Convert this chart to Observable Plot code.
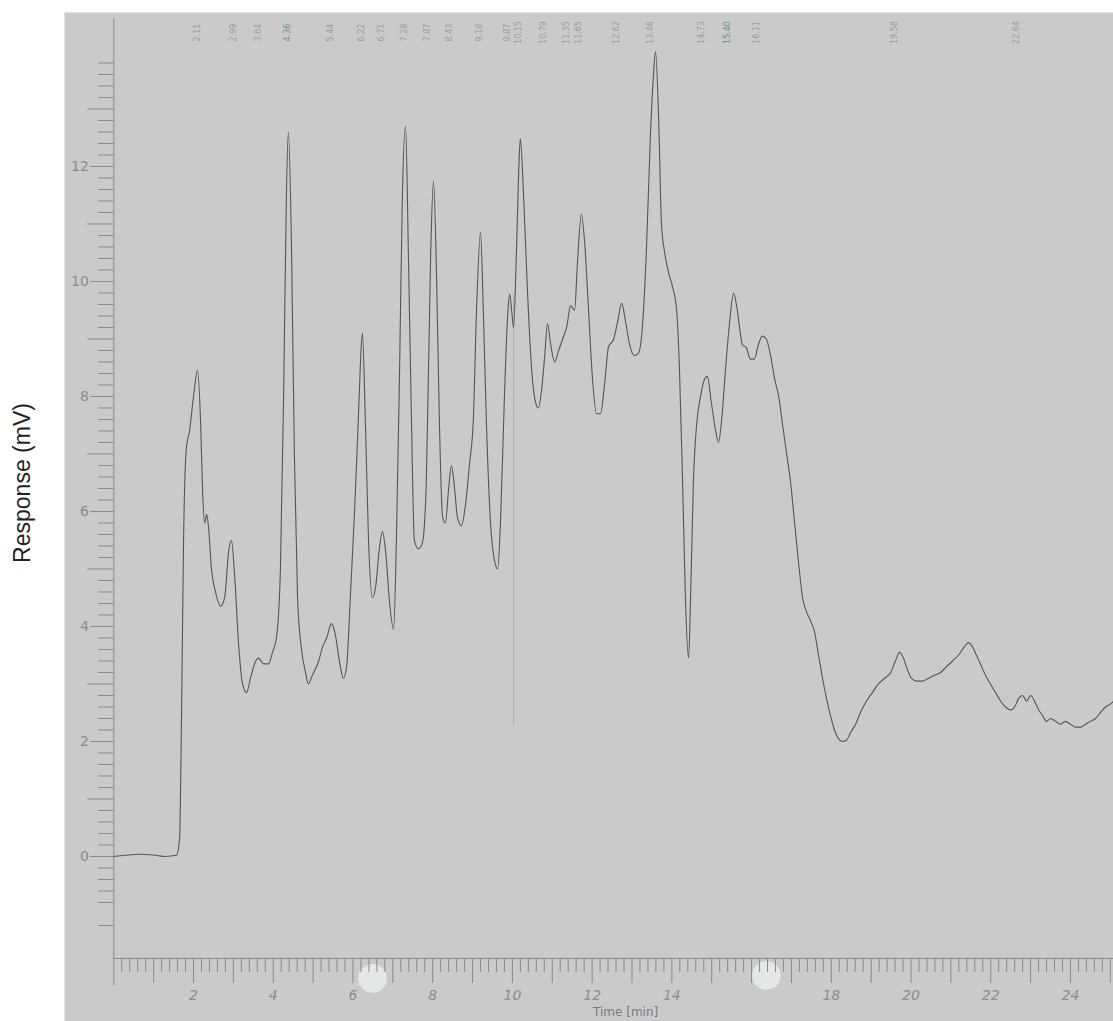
<!DOCTYPE html>
<html><head><meta charset="utf-8">
<script src="https://cdn.jsdelivr.net/npm/d3@7"></script>
<script src="https://cdn.jsdelivr.net/npm/@observablehq/plot@0.6"></script>
<style>body{margin:0;background:#fff;}</style>
</head><body><div id="chart"></div>
<script>
// Retention time (min)
const time = [0.00,0.29,0.67,1.05,1.30,1.57,1.65,1.70,1.75,1.82,1.90,2.00,2.10,2.18,2.23,2.28,2.33,2.38,2.45,2.55,2.68,2.78,2.88,2.95,3.03,3.13,3.23,3.33,3.43,3.53,3.63,3.76,3.88,3.98,4.08,4.18,4.26,4.33,4.38,4.46,4.53,4.61,4.71,4.81,4.88,4.98,5.14,5.24,5.34,5.46,5.56,5.66,5.76,5.84,5.94,6.04,6.14,6.21,6.24,6.31,6.39,6.49,6.57,6.67,6.74,6.82,6.92,7.02,7.09,7.17,7.24,7.32,7.39,7.47,7.54,7.64,7.74,7.84,7.95,8.02,8.10,8.17,8.25,8.32,8.40,8.47,8.55,8.62,8.72,8.82,8.92,9.02,9.10,9.20,9.27,9.35,9.45,9.55,9.63,9.70,9.80,9.88,9.93,9.98,10.03,10.10,10.18,10.20,10.28,10.38,10.48,10.58,10.65,10.73,10.81,10.88,10.96,11.06,11.16,11.26,11.36,11.46,11.56,11.63,11.73,11.81,11.91,12.01,12.11,12.21,12.31,12.41,12.54,12.64,12.74,12.84,12.94,13.06,13.16,13.26,13.36,13.46,13.54,13.59,13.67,13.74,13.82,13.92,14.02,14.12,14.19,14.27,14.34,14.42,14.47,14.54,14.62,14.72,14.82,14.89,14.99,15.10,15.17,15.25,15.35,15.45,15.55,15.62,15.70,15.77,15.87,15.97,16.07,16.17,16.27,16.37,16.48,16.58,16.68,16.78,16.88,16.98,17.08,17.18,17.28,17.38,17.48,17.58,17.68,17.78,17.88,17.98,18.08,18.18,18.28,18.38,18.48,18.61,18.73,18.88,19.03,19.18,19.34,19.49,19.61,19.71,19.81,19.91,20.01,20.14,20.29,20.44,20.59,20.74,20.89,21.04,21.19,21.34,21.44,21.54,21.64,21.74,21.87,21.99,22.12,22.25,22.37,22.50,22.60,22.70,22.80,22.90,23.00,23.10,23.20,23.30,23.40,23.50,23.63,23.75,23.88,24.00,24.13,24.25,24.38,24.50,24.63,24.75,24.88,25.00,25.08];
// Detector response (mV)
const response = [0.00,0.02,0.04,0.02,0.00,0.02,0.30,2.50,5.50,7.10,7.40,8.00,8.45,7.50,6.30,5.80,5.95,5.70,5.00,4.60,4.35,4.50,5.30,5.50,4.90,3.70,3.00,2.85,3.10,3.35,3.45,3.35,3.35,3.55,3.80,5.00,8.00,11.50,12.60,10.50,7.00,4.50,3.60,3.20,3.00,3.15,3.40,3.65,3.80,4.05,3.85,3.40,3.10,3.30,4.60,6.00,7.70,8.90,9.10,7.60,5.50,4.50,4.70,5.40,5.65,5.30,4.40,3.95,5.50,8.50,11.50,12.70,10.50,7.50,5.50,5.35,5.45,6.50,10.50,11.75,10.00,7.50,5.90,5.80,6.40,6.80,6.40,5.90,5.75,6.10,6.80,7.60,9.50,10.85,9.50,7.50,5.80,5.15,5.00,5.80,8.00,9.40,9.78,9.50,9.20,10.50,12.30,12.48,11.50,9.80,8.50,7.90,7.80,8.10,8.70,9.27,8.90,8.60,8.80,9.00,9.20,9.58,9.50,10.30,11.17,10.70,9.50,8.30,7.70,7.70,8.20,8.86,9.00,9.30,9.62,9.30,8.90,8.71,8.75,9.20,10.50,12.50,13.60,14.00,12.80,11.00,10.50,10.15,9.90,9.50,8.50,6.50,4.50,3.45,4.50,6.50,7.50,8.00,8.30,8.35,7.90,7.40,7.20,7.60,8.50,9.30,9.80,9.60,9.20,8.90,8.85,8.65,8.65,8.90,9.05,9.00,8.70,8.30,8.00,7.50,7.00,6.50,5.80,5.10,4.50,4.25,4.10,3.90,3.50,3.10,2.75,2.45,2.20,2.05,2.00,2.02,2.15,2.30,2.50,2.70,2.85,3.00,3.10,3.20,3.40,3.55,3.45,3.25,3.10,3.05,3.05,3.10,3.15,3.20,3.30,3.40,3.50,3.65,3.72,3.65,3.50,3.35,3.15,3.00,2.85,2.70,2.60,2.55,2.60,2.75,2.80,2.70,2.80,2.70,2.55,2.45,2.35,2.40,2.35,2.30,2.35,2.30,2.25,2.25,2.30,2.35,2.40,2.50,2.60,2.65,2.70];

// Peak retention-time annotations printed at top
const peakLabels = ["2.11","2.99","3.64","4.36","5.44","6.22","6.71","7.28","7.87","8.43","9.18","9.87","10.15","10.79","11.35","11.65","12.62","13.46","14.73","15.40","16.11","19.58","22.64"];
const highlightedPeaks = ["4.36","15.40"];

// Axis ticks
const yTickLabels = [0,2,4,6,8,10,12];
const yMidTicks = [1,3,5,7,9,11,13];
const xTickLabels = [2,4,6,8,10,12,14,18,20,22,24];
const xTitle = "Time [min]";
const yTitle = "Response (mV)";

// Scan artefacts: faint pen stroke and two punch marks
const penStrokeTime = [10.03];
const penStrokeRange = [2.28, 9.76];
const holeTime = [6.49, 16.37];
const holeResp = [-2.12, -2.07];

const data = time.map((t, i) => ({t, v: response[i]}));
const holes = holeTime.map((t, i) => ({t, v: holeResp[i]}));

const W = 1113, H = 1021, mL = 64, mT = 12;
const xDomain = [-1.237, 25.08], yDomain = [-2.870, 14.678];
const kx = (xDomain[1] - xDomain[0]) / (W - mL);
const ky = (yDomain[1] - yDomain[0]) / (H - mT);
const xAxisLevel = -1.774;

const yMinor = d3.range(-1.2, 13.81, 0.2).map(d => +d.toFixed(1)).filter(d => Math.abs(d - Math.round(d)) > 1e-6);
const xMinor = d3.range(0.2, 25.01, 0.2).map(d => +d.toFixed(1)).filter(d => Math.abs(d - Math.round(d)) > 1e-6);
const xInt = d3.range(1, 26);

const axisColor = "#8a8a8a";
const labelColor = "#8c8c8c";

const chart = Plot.plot({
  width: W, height: H,
  marginLeft: mL, marginTop: mT, marginRight: 0, marginBottom: 0,
  x: {domain: xDomain, axis: null},
  y: {domain: yDomain, axis: null},
  style: {background: "#ffffff", fontFamily: "DejaVu Sans, sans-serif"},
  marks: [
    Plot.frame({fill: "#cacaca", stroke: null}),
    // punch marks
    Plot.dot(holes, {x: "t", y: "v", r: 15, fill: "#e3e7e7", stroke: "#b9bcbc", strokeWidth: 0.6}),
    // y axis
    Plot.ruleX([0], {y1: xAxisLevel - 27 * ky, y2: 14.57, stroke: axisColor, strokeWidth: 1}),
    Plot.ruleY(yMinor, {x1: -15 * kx, x2: 0, stroke: axisColor, strokeWidth: 1}),
    Plot.ruleY(yMidTicks, {x1: -26 * kx, x2: 0, stroke: axisColor, strokeWidth: 1}),
    Plot.ruleY(yTickLabels, {x1: -23 * kx, x2: 0, stroke: axisColor, strokeWidth: 1}),
    Plot.text(yTickLabels, {x: -25 * kx, y: d => d, text: d => String(d), textAnchor: "end", fontSize: 14, fill: labelColor}),
    // x axis
    Plot.ruleY([xAxisLevel], {x1: 0, x2: xDomain[1], stroke: axisColor, strokeWidth: 1}),
    Plot.ruleX(xMinor, {y1: xAxisLevel, y2: xAxisLevel - 14 * ky, stroke: axisColor, strokeWidth: 1}),
    Plot.ruleX(xInt, {y1: xAxisLevel, y2: xAxisLevel - 25 * ky, stroke: axisColor, strokeWidth: 1}),
    Plot.text(xTickLabels, {x: d => d, y: xAxisLevel - 37 * ky, text: d => String(d), fontSize: 14, fontStyle: "italic", fill: labelColor}),
    Plot.text([xTitle], {x: 12.84, y: xAxisLevel - 54 * ky, text: d => d, fontSize: 12, fill: "#7a7a7a"}),
    // faint pen stroke
    Plot.ruleX(penStrokeTime, {y1: penStrokeRange[0], y2: penStrokeRange[1], stroke: "#cf9f9f", strokeWidth: 1}),
    // chromatogram trace
    Plot.line(data, {x: "t", y: "v", stroke: "#555555", strokeWidth: 1.1, strokeLinejoin: "round", curve: "monotone-x"}),
    // peak annotations
    Plot.text(peakLabels, {x: d => +d, y: 14.33, text: d => d, rotate: -90, fontSize: 8,
      fill: d => highlightedPeaks.includes(d) ? "#5f9490" : "#9c9c9c"}),
    // y title in the white margin
    Plot.text([yTitle], {frameAnchor: "left", textAnchor: "middle", dx: -42, dy: -34, rotate: -90, text: d => d, fontSize: 23,
      fill: "#222", fontFamily: "Liberation Sans, Arial, sans-serif"})
  ]
});
document.getElementById("chart").appendChild(chart);
</script>
</body></html>
